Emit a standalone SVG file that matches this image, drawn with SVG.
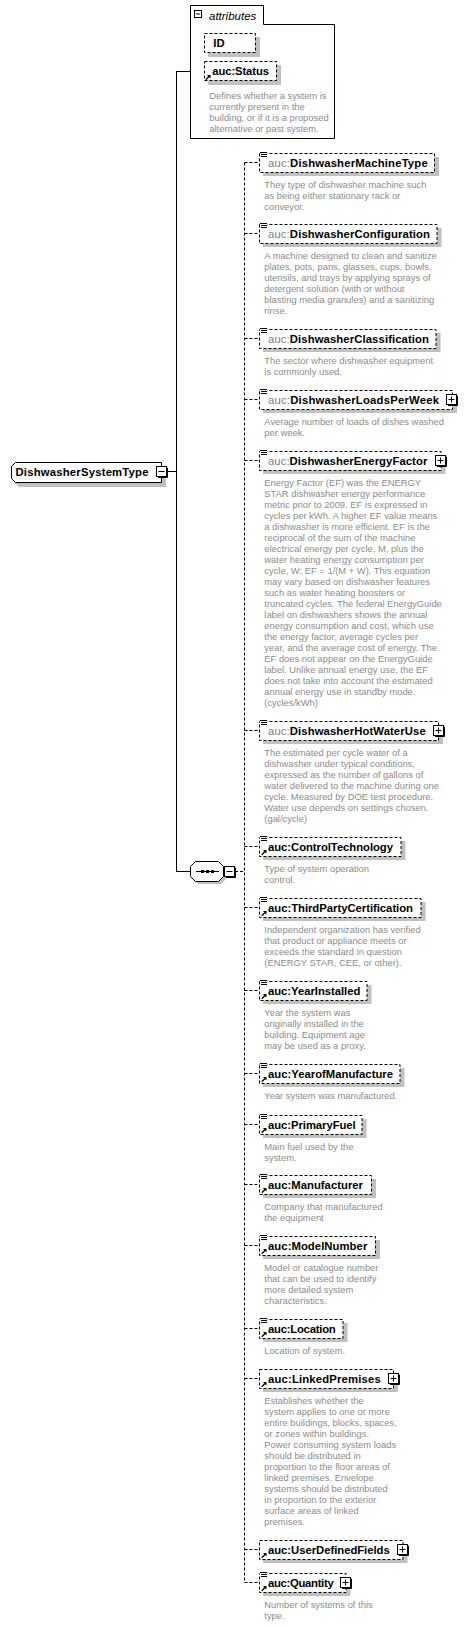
<svg xmlns="http://www.w3.org/2000/svg" xmlns:xlink="http://www.w3.org/1999/xlink" width="466" height="1626" viewBox="0 0 466 1626">
<style>
.bg{fill:#fff}
.box{fill:#fff;stroke:#000;stroke-width:1;stroke-dasharray:3,2}
.sbox{fill:#fff;stroke:#000;stroke-width:1}
.sh{fill:#c0c0c0}
.ln{fill:none;stroke:#000;stroke-width:1}
.dl{fill:none;stroke:#000;stroke-width:1;stroke-dasharray:3,2}
.name{font-family:"Liberation Sans",Arial,sans-serif;font-size:11.3px;font-weight:bold;fill:#000}
.pre{fill:#808080;font-weight:normal}
.desc{font-family:"Liberation Sans",Arial,sans-serif;font-size:9.4px;fill:#8c8c8c}
.it{font-family:"Liberation Sans",Arial,sans-serif;font-size:11.5px;font-style:italic;fill:#000}
</style>
<defs>
<g id="eq"><rect x="0" y="0" width="7" height="6" fill="#fff"/><path d="M0 0.5h7M1 2.5h6M1 4.5h6" stroke="#000" stroke-width="1"/></g>
<g id="ref"><path d="M0.8 5.2L4 2" stroke="#000" stroke-width="1.3"/><path d="M2 0.5H5.5V4Z" fill="#000"/></g>
<g id="plus"><path d="M2 2H11.5V11.5H2" fill="none" stroke="#000" stroke-width="1"/><rect x="0.5" y="0.5" width="10" height="10" fill="#fff" stroke="#000"/><path d="M2.5 5.5h6M5.5 2.5v6" stroke="#000"/></g>
<g id="minus"><path d="M2 2H11.5V11.5H2" fill="none" stroke="#000" stroke-width="1"/><rect x="0.5" y="0.5" width="10" height="10" fill="#fff" stroke="#000"/><path d="M2.5 5.5h6" stroke="#000"/></g>
</defs>
<rect width="466" height="1626" fill="#fff"/>

<g id="connectors">
<path class="ln" d="M176.5 71.5V871.5M176 71.5H190.5M176 871.5H190.5M166.5 471.5H176.5"/>
<path class="dl" d="M235 871.5H244.5M244.5 162.5V1582.5"/>
<path class="dl" d="M244.5 162.5H259.5M244.5 233.5H259.5M244.5 338.5H259.5M244.5 399.5H259.5M244.5 460.5H259.5M244.5 730.5H259.5M244.5 846.5H259.5M244.5 907.5H259.5M244.5 990.5H259.5M244.5 1073.5H259.5M244.5 1124.5H259.5M244.5 1184.5H259.5M244.5 1245.5H259.5M244.5 1328.5H259.5M244.5 1378.5H259.5M244.5 1549.5H259.5M244.5 1582.5H259.5"/>
</g>

<g id="DishwasherSystemType">
<path class="sh" d="M19 466H166V487H19L15 483V470Z"/>
<path class="sbox" d="M15.5 462.5H161.5V482.5H15.5L11.5 478.5V466.5Z"/>
<text class="name" x="15.5" y="476" textLength="133">DishwasherSystemType</text>
<use href="#minus" x="156" y="466"/>
</g>

<g id="attributes">
<path class="sbox" d="M190.5 5.5H263.5V24.5H334.5V138.5H190.5Z"/>
<rect x="194.5" y="10.5" width="7" height="7" fill="#fff" stroke="#000"/>
<path class="ln" d="M196 14h4"/>
<text class="it" x="209" y="19.5">attributes</text>
</g>

<g id="attr-ID">
<rect class="sh" x="208" y="37" width="52" height="20"/>
<rect class="box" x="204.5" y="33.5" width="51" height="19"/>
<text class="name" x="213.3" y="47">ID</text>
</g>

<g id="attr-Status">
<rect class="sh" x="208" y="65" width="73" height="20"/>
<rect class="box" x="204.5" y="61.5" width="72" height="19"/>
<text class="name" x="212.3" y="75" textLength="56.7">auc:Status</text>
<use href="#ref" x="205" y="74.5"/>
<text class="desc" x="209.3" y="99"><tspan x="209.3">Defines whether a system is</tspan><tspan x="209.3" dy="11">currently present in the</tspan><tspan x="209.3" dy="11">building, or if it is a proposed</tspan><tspan x="209.3" dy="11">alternative or past system.</tspan></text>
</g>

<g id="sequence">
<path class="sh" d="M198 864H221L226 869V879L221 884H198L193 879V869Z"/>
<path class="sbox" d="M195.5 861.5H218.5L223.5 866.5V876.5L218.5 881.5H195.5L190.5 876.5V866.5Z"/>
<path class="ln" d="M196 871.5H219"/>
<rect x="201" y="870" width="3" height="3" fill="#000"/>
<rect x="206" y="870" width="3" height="3" fill="#000"/>
<rect x="211" y="870" width="3" height="3" fill="#000"/>
<use href="#minus" x="224" y="866"/>
</g>

<g id="DishwasherMachineType">
<rect class="sh" x="263" y="157" width="176" height="19"/>
<rect class="box" x="259.5" y="153.5" width="175" height="19"/>
<use href="#eq" x="260" y="152"/>
<text class="name" x="268" y="166.5" textLength="159.7"><tspan class="pre">auc:</tspan>DishwasherMachineType</text>
<text class="desc" x="264.3" y="187.5"><tspan x="264.3">They type of dishwasher machine such</tspan><tspan x="264.3" dy="11">as being either stationary rack or</tspan><tspan x="264.3" dy="11">conveyor.</tspan></text>
</g>

<g id="DishwasherConfiguration">
<rect class="sh" x="263" y="228" width="178.5" height="19"/>
<rect class="box" x="259.5" y="224.5" width="177.5" height="19"/>
<use href="#eq" x="260" y="223"/>
<text class="name" x="268" y="237.5" textLength="162"><tspan class="pre">auc:</tspan>DishwasherConfiguration</text>
<text class="desc" x="264.3" y="258.5"><tspan x="264.3">A machine designed to clean and sanitize</tspan><tspan x="264.3" dy="11">plates, pots, pans, glasses, cups, bowls,</tspan><tspan x="264.3" dy="11">utensils, and trays by applying sprays of</tspan><tspan x="264.3" dy="11">detergent solution (with or without</tspan><tspan x="264.3" dy="11">blasting media granules) and a sanitizing</tspan><tspan x="264.3" dy="11">rinse.</tspan></text>
</g>

<g id="DishwasherClassification">
<rect class="sh" x="263" y="333" width="177.5" height="19"/>
<rect class="box" x="259.5" y="329.5" width="176.5" height="19"/>
<use href="#eq" x="260" y="328"/>
<text class="name" x="268" y="342.5" textLength="161"><tspan class="pre">auc:</tspan>DishwasherClassification</text>
<text class="desc" x="264.3" y="363.5"><tspan x="264.3">The sector where dishwasher equipment</tspan><tspan x="264.3" dy="11">is commonly used.</tspan></text>
</g>

<g id="DishwasherLoadsPerWeek">
<rect class="sh" x="263" y="394" width="194" height="19"/>
<rect class="box" x="259.5" y="390.5" width="193" height="19"/>
<use href="#eq" x="260" y="389"/>
<text class="name" x="268" y="403.5" textLength="171"><tspan class="pre">auc:</tspan>DishwasherLoadsPerWeek</text>
<use href="#plus" x="446" y="394"/>
<text class="desc" x="264.3" y="424.5"><tspan x="264.3">Average number of loads of dishes washed</tspan><tspan x="264.3" dy="11">per week.</tspan></text>
</g>

<g id="DishwasherEnergyFactor">
<rect class="sh" x="263" y="455" width="182.5" height="19"/>
<rect class="box" x="259.5" y="451.5" width="181.5" height="19"/>
<use href="#eq" x="260" y="450"/>
<text class="name" x="268" y="464.5" textLength="159.3"><tspan class="pre">auc:</tspan>DishwasherEnergyFactor</text>
<use href="#plus" x="435" y="455"/>
<text class="desc" x="264.3" y="485.5"><tspan x="264.3">Energy Factor (EF) was the ENERGY</tspan><tspan x="264.3" dy="11">STAR dishwasher energy performance</tspan><tspan x="264.3" dy="11">metric prior to 2009. EF is expressed in</tspan><tspan x="264.3" dy="11">cycles per kWh. A higher EF value means</tspan><tspan x="264.3" dy="11">a dishwasher is more efficient. EF is the</tspan><tspan x="264.3" dy="11">reciprocal of the sum of the machine</tspan><tspan x="264.3" dy="11">electrical energy per cycle, M, plus the</tspan><tspan x="264.3" dy="11">water heating energy consumption per</tspan><tspan x="264.3" dy="11">cycle, W: EF = 1/(M + W). This equation</tspan><tspan x="264.3" dy="11">may vary based on dishwasher features</tspan><tspan x="264.3" dy="11">such as water heating boosters or</tspan><tspan x="264.3" dy="11">truncated cycles. The federal EnergyGuide</tspan><tspan x="264.3" dy="11">label on dishwashers shows the annual</tspan><tspan x="264.3" dy="11">energy consumption and cost, which use</tspan><tspan x="264.3" dy="11">the energy factor, average cycles per</tspan><tspan x="264.3" dy="11">year, and the average cost of energy. The</tspan><tspan x="264.3" dy="11">EF does not appear on the EnergyGuide</tspan><tspan x="264.3" dy="11">label. Unlike annual energy use, the EF</tspan><tspan x="264.3" dy="11">does not take into account the estimated</tspan><tspan x="264.3" dy="11">annual energy use in standby mode.</tspan><tspan x="264.3" dy="11">(cycles/kWh)</tspan></text>
</g>

<g id="DishwasherHotWaterUse">
<rect class="sh" x="263" y="725" width="180" height="19"/>
<rect class="box" x="259.5" y="721.5" width="179" height="19"/>
<use href="#eq" x="260" y="720"/>
<text class="name" x="268" y="734.5" textLength="157.7"><tspan class="pre">auc:</tspan>DishwasherHotWaterUse</text>
<use href="#plus" x="433" y="725"/>
<text class="desc" x="264.3" y="755.5"><tspan x="264.3">The estimated per cycle water of a</tspan><tspan x="264.3" dy="11">dishwasher under typical conditions,</tspan><tspan x="264.3" dy="11">expressed as the number of gallons of</tspan><tspan x="264.3" dy="11">water delivered to the machine during one</tspan><tspan x="264.3" dy="11">cycle. Measured by DOE test procedure.</tspan><tspan x="264.3" dy="11">Water use depends on settings chosen.</tspan><tspan x="264.3" dy="11">(gal/cycle)</tspan></text>
</g>

<g id="ControlTechnology">
<rect class="sh" x="263" y="841" width="142.5" height="19"/>
<rect class="box" x="259.5" y="837.5" width="141.5" height="19"/>
<use href="#eq" x="260" y="836"/>
<use href="#ref" x="261" y="849.5"/>
<text class="name" x="268" y="850.5" textLength="125">auc:ControlTechnology</text>
<text class="desc" x="264.3" y="871.5"><tspan x="264.3">Type of system operation</tspan><tspan x="264.3" dy="11">control.</tspan></text>
</g>

<g id="ThirdPartyCertification">
<rect class="sh" x="263" y="902" width="162.5" height="19"/>
<rect class="box" x="259.5" y="898.5" width="161.5" height="19"/>
<use href="#eq" x="260" y="897"/>
<use href="#ref" x="261" y="910.5"/>
<text class="name" x="268" y="911.5" textLength="145">auc:ThirdPartyCertification</text>
<text class="desc" x="264.3" y="932.5"><tspan x="264.3">Independent organization has verified</tspan><tspan x="264.3" dy="11">that product or appliance meets or</tspan><tspan x="264.3" dy="11">exceeds the standard in question</tspan><tspan x="264.3" dy="11">(ENERGY STAR, CEE, or other).</tspan></text>
</g>

<g id="YearInstalled">
<rect class="sh" x="263" y="985" width="108.5" height="19"/>
<rect class="box" x="259.5" y="981.5" width="107.5" height="19"/>
<use href="#eq" x="260" y="980"/>
<use href="#ref" x="261" y="993.5"/>
<text class="name" x="268" y="994.5" textLength="92.3">auc:YearInstalled</text>
<text class="desc" x="264.3" y="1015.5"><tspan x="264.3">Year the system was</tspan><tspan x="264.3" dy="11">originally installed in the</tspan><tspan x="264.3" dy="11">building. Equipment age</tspan><tspan x="264.3" dy="11">may be used as a proxy.</tspan></text>
</g>

<g id="YearofManufacture">
<rect class="sh" x="263" y="1068" width="141.5" height="19"/>
<rect class="box" x="259.5" y="1064.5" width="140.5" height="19"/>
<use href="#eq" x="260" y="1063"/>
<use href="#ref" x="261" y="1076.5"/>
<text class="name" x="268" y="1077.5" textLength="125">auc:YearofManufacture</text>
<text class="desc" x="264.3" y="1098.5"><tspan x="264.3">Year system was manufactured.</tspan></text>
</g>

<g id="PrimaryFuel">
<rect class="sh" x="263" y="1119" width="103.5" height="19"/>
<rect class="box" x="259.5" y="1115.5" width="102.5" height="19"/>
<use href="#eq" x="260" y="1114"/>
<use href="#ref" x="261" y="1127.5"/>
<text class="name" x="268" y="1128.5" textLength="87.7">auc:PrimaryFuel</text>
<text class="desc" x="264.3" y="1149.5"><tspan x="264.3">Main fuel used by the</tspan><tspan x="264.3" dy="11">system.</tspan></text>
</g>

<g id="Manufacturer">
<rect class="sh" x="263" y="1179" width="113" height="19"/>
<rect class="box" x="259.5" y="1175.5" width="112" height="19"/>
<use href="#eq" x="260" y="1174"/>
<use href="#ref" x="261" y="1187.5"/>
<text class="name" x="268" y="1188.5" textLength="95">auc:Manufacturer</text>
<text class="desc" x="264.3" y="1209.5"><tspan x="264.3">Company that manufactured</tspan><tspan x="264.3" dy="11">the equipment</tspan></text>
</g>

<g id="ModelNumber">
<rect class="sh" x="263" y="1240" width="117" height="19"/>
<rect class="box" x="259.5" y="1236.5" width="116" height="19"/>
<use href="#eq" x="260" y="1235"/>
<use href="#ref" x="261" y="1248.5"/>
<text class="name" x="268" y="1249.5" textLength="99.3">auc:ModelNumber</text>
<text class="desc" x="264.3" y="1270.5"><tspan x="264.3">Model or catalogue number</tspan><tspan x="264.3" dy="11">that can be used to identify</tspan><tspan x="264.3" dy="11">more detailed system</tspan><tspan x="264.3" dy="11">characteristics.</tspan></text>
</g>

<g id="Location">
<rect class="sh" x="263" y="1323" width="84.5" height="19"/>
<rect class="box" x="259.5" y="1319.5" width="83.5" height="19"/>
<use href="#eq" x="260" y="1318"/>
<use href="#ref" x="261" y="1331.5"/>
<text class="name" x="268" y="1332.5" textLength="67.7">auc:Location</text>
<text class="desc" x="264.3" y="1353.5"><tspan x="264.3">Location of system.</tspan></text>
</g>

<g id="LinkedPremises">
<rect class="sh" x="263" y="1373" width="135" height="19"/>
<rect class="box" x="259.5" y="1369.5" width="134" height="19"/>
<use href="#ref" x="261" y="1381.5"/>
<text class="name" x="268" y="1382.5" textLength="112.7">auc:LinkedPremises</text>
<use href="#plus" x="388" y="1373"/>
<text class="desc" x="264.3" y="1403.5"><tspan x="264.3">Establishes whether the</tspan><tspan x="264.3" dy="11">system applies to one or more</tspan><tspan x="264.3" dy="11">entire buildings, blocks, spaces,</tspan><tspan x="264.3" dy="11">or zones within buildings.</tspan><tspan x="264.3" dy="11">Power consuming system loads</tspan><tspan x="264.3" dy="11">should be distributed in</tspan><tspan x="264.3" dy="11">proportion to the floor areas of</tspan><tspan x="264.3" dy="11">linked premises. Envelope</tspan><tspan x="264.3" dy="11">systems should be distributed</tspan><tspan x="264.3" dy="11">in proportion to the exterior</tspan><tspan x="264.3" dy="11">surface areas of linked</tspan><tspan x="264.3" dy="11">premises.</tspan></text>
</g>

<g id="UserDefinedFields">
<rect class="sh" x="263" y="1544" width="144.5" height="19"/>
<rect class="box" x="259.5" y="1540.5" width="143.5" height="19"/>
<use href="#ref" x="261" y="1552.5"/>
<text class="name" x="268" y="1553.5" textLength="121.7">auc:UserDefinedFields</text>
<use href="#plus" x="397" y="1544"/>
</g>

<g id="Quantity">
<rect class="sh" x="263" y="1577" width="87.5" height="19"/>
<rect class="box" x="259.5" y="1573.5" width="86.5" height="19"/>
<use href="#eq" x="260" y="1572"/>
<use href="#ref" x="261" y="1585.5"/>
<text class="name" x="268" y="1586.5" textLength="65.7">auc:Quantity</text>
<use href="#plus" x="340" y="1577"/>
<text class="desc" x="264.3" y="1607.5"><tspan x="264.3">Number of systems of this</tspan><tspan x="264.3" dy="11">type.</tspan></text>
</g>
</svg>
